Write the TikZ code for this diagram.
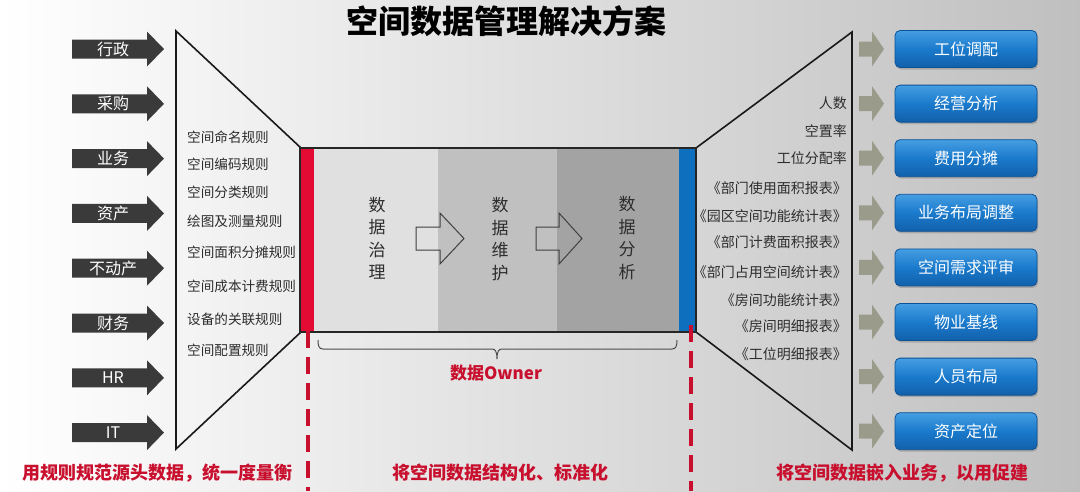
\documentclass[tikz,border=0pt]{standalone}
\usepackage{fontspec}
\setmainfont{Noto Sans CJK SC}
\usetikzlibrary{shadows,calc}
\definecolor{arrowdark}{RGB}{58,58,58}
\definecolor{arrowgray}{RGB}{155,155,140}
\definecolor{barred}{RGB}{227,11,52}
\definecolor{barblue}{RGB}{14,111,191}
\definecolor{textred}{RGB}{200,16,46}
\definecolor{boxtop}{RGB}{70,158,226}
\definecolor{boxmid}{RGB}{26,122,204}
\definecolor{boxbot}{RGB}{18,96,170}
\definecolor{boxedge}{RGB}{12,82,150}
\definecolor{stageA}{RGB}{224,224,224}
\definecolor{stageB}{RGB}{192,192,192}
\definecolor{stageC}{RGB}{163,163,163}
\definecolor{txtdark}{RGB}{45,45,45}
\begin{document}
\begin{tikzpicture}[x=1pt,y=-1pt,
  srclabel/.style={text=white,font=\fontsize{16}{18}\selectfont,inner sep=0pt},
  rulelabel/.style={anchor=west,text=txtdark,font=\fontsize{13.6}{15}\selectfont,inner sep=0pt},
  outlabel/.style={anchor=east,text=txtdark,font=\fontsize{14}{15}\selectfont,inner sep=0pt},
  bluebox/.style={rounded corners=5pt,minimum width=142pt,minimum height=37pt,
     top color=boxtop,bottom color=boxbot,middle color=boxmid,draw=boxedge,line width=0.8pt,
     text=white,font=\fontsize{16}{18}\selectfont,
     drop shadow={opacity=0.45,shadow xshift=1pt,shadow yshift=-2pt}},
  stagelabel/.style={align=center,text=txtdark,font=\fontsize{17}{22.5}\selectfont,inner sep=0pt},
  hollowarrow/.style={draw=black!75,line width=1pt},
  redtext/.style={text=textred,font=\fontsize{18}{20}\selectfont\bfseries,inner sep=0pt},
  reddash/.style={draw=textred,line width=3.5pt,dash pattern=on 17pt off 9pt},
  trapline/.style={draw=black!90,line width=1.6pt,line join=miter},
  bracestyle/.style={draw=black!70,line width=1pt}
]
\useasboundingbox (0,0) rectangle (1080,491);
\shade[left color=white,right color=black!25] (0,0) rectangle (1080,491);

% title
\node[font=\fontsize{32}{36}\selectfont\bfseries,inner sep=0pt] (title) at (506,21) {空间数据管理解决方案};

% trapezoids
\draw[trapline] (301,148) -- (176,31) -- (176,449) -- (301,332);
\draw[trapline] (696,148) -- (852,32) -- (852,450) -- (696,332);

% central band
\fill[barred] (300,148) rectangle (314,332);
\fill[stageA] (314,148) rectangle (438,332);
\fill[stageB] (438,148) rectangle (557,332);
\fill[stageC] (557,148) rectangle (679,332);
\fill[barblue] (679,148) rectangle (696,332);
\draw[line width=1.6pt,black!85] (300,148) rectangle (696,332);

\node[stagelabel] (s1) at (377,238) {数\\据\\治\\理};
\node[stagelabel] (s2) at (500,239) {数\\据\\维\\护};
\node[stagelabel] (s3) at (627,238) {数\\据\\分\\析};

\draw[hollowarrow] (416,227) -- (440,227) -- (440,213) -- (464,238.5) -- (440,264) -- (440,250) -- (416,250) -- cycle;
\draw[hollowarrow] (536,227) -- (559,227) -- (559,213) -- (582,238.5) -- (559,264) -- (559,250) -- (536,250) -- cycle;

% brace and owner
\draw[bracestyle] (318,340) .. controls (318,346) and (319,349) .. (323,349) -- (492,349)
  .. controls (495,349) and (497,351) .. (497,359) .. controls (497,351) and (499,349) .. (502,349)
  -- (672,349) .. controls (676,349) and (677,346) .. (677,340);
\node[redtext,font=\fontsize{17}{19}\selectfont\bfseries] (owner) at (496,373) {数据Owner};

% left source arrows
\foreach \t [count=\i] in {行政,采购,业务,资产,不动产,财务,HR,IT} {
  \pgfmathsetmacro\yy{49+54.8*(\i-1)}
  \fill[arrowdark] (72,\yy-9.5) -- (147,\yy-9.5) -- (147,\yy-17.5) -- (164,\yy) -- (147,\yy+17.5) -- (147,\yy+9.5) -- (72,\yy+9.5) -- cycle;
  \node[srclabel] (src\i) at (113,\yy) {\t};
}

% rules
\foreach \t/\y [count=\i] in {空间命名规则/137,空间编码规则/164,空间分类规则/192,绘图及测量规则/221,空间面积分摊规则/252,空间成本计费规则/286,设备的关联规则/319,空间配置规则/350} {
  \node[rulelabel] (rule\i) at (187,\y) {\t};
}

% outputs
\foreach \t/\y [count=\i] in {人数/103,空置率/131,工位分配率/158,《部门使用面积报表》/188,《园区空间功能统计表》/216,《部门计费面积报表》/242,《部门占用空间统计表》/272,《房间功能统计表》/300,《房间明细报表》/326,《工位明细报表》/354} {
  \node[outlabel] (out\i) at (847,\y) {\t};
}

% right arrows and boxes
\foreach \t [count=\i] in {工位调配,经营分析,费用分摊,业务布局调整,空间需求评审,物业基线,人员布局,资产定位} {
  \pgfmathsetmacro\yy{49+54.6*(\i-1)}
  \fill[arrowgray] (859,\yy-7.5) -- (872,\yy-7.5) -- (872,\yy-17.5) -- (884,\yy) -- (872,\yy+17.5) -- (872,\yy+7.5) -- (859,\yy+7.5) -- cycle;
  \node[bluebox] (use\i) at (966,\yy) {\t};
}

% dashed separators
\draw[reddash] (308,331) -- (308,491);
\draw[reddash] (691,325) -- (691,491);

% bottom captions
\node[redtext] (cap1) at (158,473) {用规则规范源头数据，统一度量衡};
\node[redtext] (cap2) at (500,473) {将空间数据结构化、标准化};
\node[redtext] (cap3) at (902,473) {将空间数据嵌入业务，以用促建};
\end{tikzpicture}
\end{document}
